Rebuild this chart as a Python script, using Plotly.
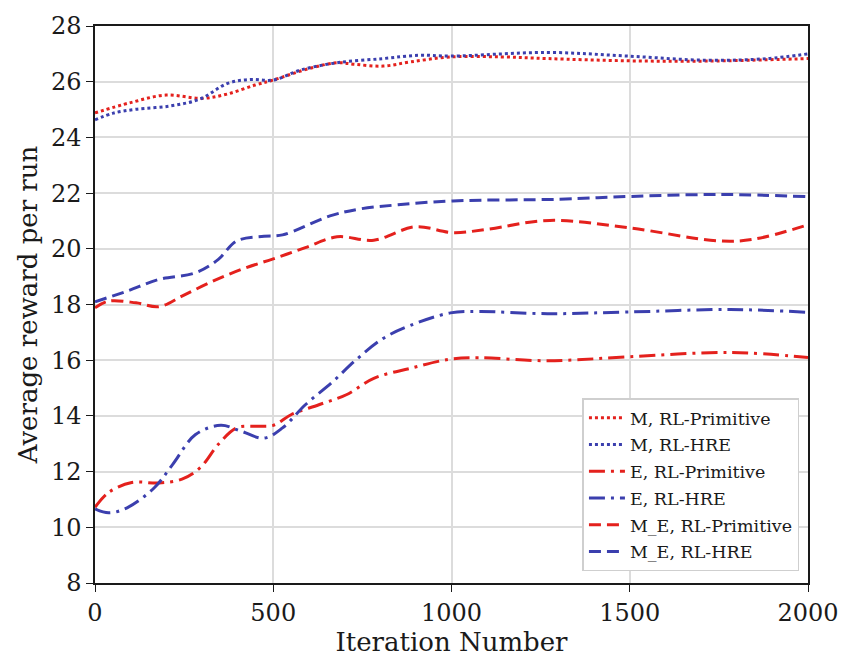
import plotly.graph_objects as go

RED = "#e4211d"
BLUE = "#3b3fae"

m_prim_x = [0, 100, 199, 301, 372, 449, 500, 603, 679, 731, 808, 885, 997, 1141, 1269, 1495, 1718, 2000]
m_prim_y = [24.88, 25.25, 25.52, 25.4, 25.56, 25.88, 26.06, 26.48, 26.68, 26.62, 26.56, 26.71, 26.89, 26.89, 26.83, 26.75, 26.74, 26.83]

m_hre_x = [0, 51, 115, 212, 295, 372, 436, 500, 577, 679, 808, 910, 997, 1269, 1495, 1718, 1885, 2000]
m_hre_y = [24.63, 24.87, 25.01, 25.13, 25.38, 25.94, 26.08, 26.06, 26.42, 26.68, 26.83, 26.95, 26.92, 27.05, 26.92, 26.77, 26.83, 27.0]

e_prim_x = [0, 38, 103, 179, 244, 295, 346, 397, 449, 500, 551, 628, 705, 782, 885, 997, 1077, 1269, 1495, 1782, 2000]
e_prim_y = [10.72, 11.25, 11.61, 11.59, 11.73, 12.14, 12.98, 13.57, 13.63, 13.66, 14.05, 14.4, 14.76, 15.35, 15.71, 16.04, 16.09, 15.98, 16.12, 16.28, 16.1]

e_hre_x = [0, 38, 90, 167, 218, 282, 353, 410, 474, 526, 590, 667, 731, 808, 885, 997, 1077, 1269, 1495, 1782, 2000]
e_hre_y = [10.66, 10.52, 10.7, 11.43, 12.26, 13.33, 13.66, 13.45, 13.2, 13.57, 14.4, 15.23, 16.0, 16.78, 17.25, 17.7, 17.75, 17.67, 17.73, 17.82, 17.72]

me_prim_x = [0, 38, 115, 179, 244, 321, 410, 500, 590, 679, 782, 898, 1004, 1100, 1276, 1500, 1753, 1850, 2000]
me_prim_y = [17.88, 18.12, 18.06, 17.92, 18.3, 18.78, 19.26, 19.64, 20.04, 20.43, 20.31, 20.79, 20.58, 20.7, 21.02, 20.75, 20.28, 20.35, 20.86]

me_hre_x = [0, 90, 179, 282, 346, 397, 474, 526, 659, 743, 850, 1004, 1304, 1500, 1753, 2000]
me_hre_y = [18.1, 18.48, 18.9, 19.14, 19.62, 20.28, 20.45, 20.5, 21.18, 21.43, 21.58, 21.72, 21.78, 21.88, 21.95, 21.87]

x_ticks = [0, 500, 1000, 1500, 2000]
y_ticks = [8, 10, 12, 14, 16, 18, 20, 22, 24, 26, 28]

series = [
    ("M, RL-Primitive", m_prim_x, m_prim_y, RED, "dot"),
    ("M, RL-HRE", m_hre_x, m_hre_y, BLUE, "dot"),
    ("E, RL-Primitive", e_prim_x, e_prim_y, RED, "16px,6px,3px,6px"),
    ("E, RL-HRE", e_hre_x, e_hre_y, BLUE, "16px,6px,3px,6px"),
    ("M_E, RL-Primitive", me_prim_x, me_prim_y, RED, "12px,6px"),
    ("M_E, RL-HRE", me_hre_x, me_hre_y, BLUE, "12px,6px"),
]

fig = go.Figure()
for name, xs, ys, col, dash in series:
    fig.add_trace(go.Scatter(x=xs, y=ys, mode="lines", name=name, legendgroup=name,
                             line=dict(color=col, width=3, dash=dash, shape="spline", smoothing=1.0)))

FONT = "DejaVu Serif"
fig.update_layout(
    width=857, height=661,
    margin=dict(l=95, r=49, t=20, b=75),
    paper_bgcolor="white", plot_bgcolor="white",
    font=dict(family=FONT, color="#1a1a1a", size=24),
    showlegend=True,
    legend=dict(x=0.988, y=0.021, xanchor="right", yanchor="bottom",
                bgcolor="white", bordercolor="#cfcfcf", borderwidth=1.5,
                font=dict(family=FONT, size=17.5, color="#1a1a1a"),
                itemwidth=36, tracegroupgap=1, traceorder="grouped"),
)
fig.update_xaxes(range=[0, 2000], tickvals=x_ticks,
                 showgrid=True, gridcolor="#dcdcdc", gridwidth=1.5,
                 showline=True, linecolor="#1a1a1a", linewidth=1.5, mirror=True,
                 ticks="outside", ticklen=7, tickcolor="#1a1a1a", zeroline=False,
                 title=dict(text="Iteration Number", font=dict(size=26, family=FONT), standoff=4))
fig.update_yaxes(range=[8, 28], tickvals=y_ticks,
                 showgrid=True, gridcolor="#dcdcdc", gridwidth=1.5,
                 showline=True, linecolor="#1a1a1a", linewidth=1.5, mirror=True,
                 ticks="outside", ticklen=7, tickcolor="#1a1a1a", zeroline=False,
                 title=dict(text="Average reward per run", font=dict(size=26, family=FONT), standoff=6))

fig.write_html("out.html")
